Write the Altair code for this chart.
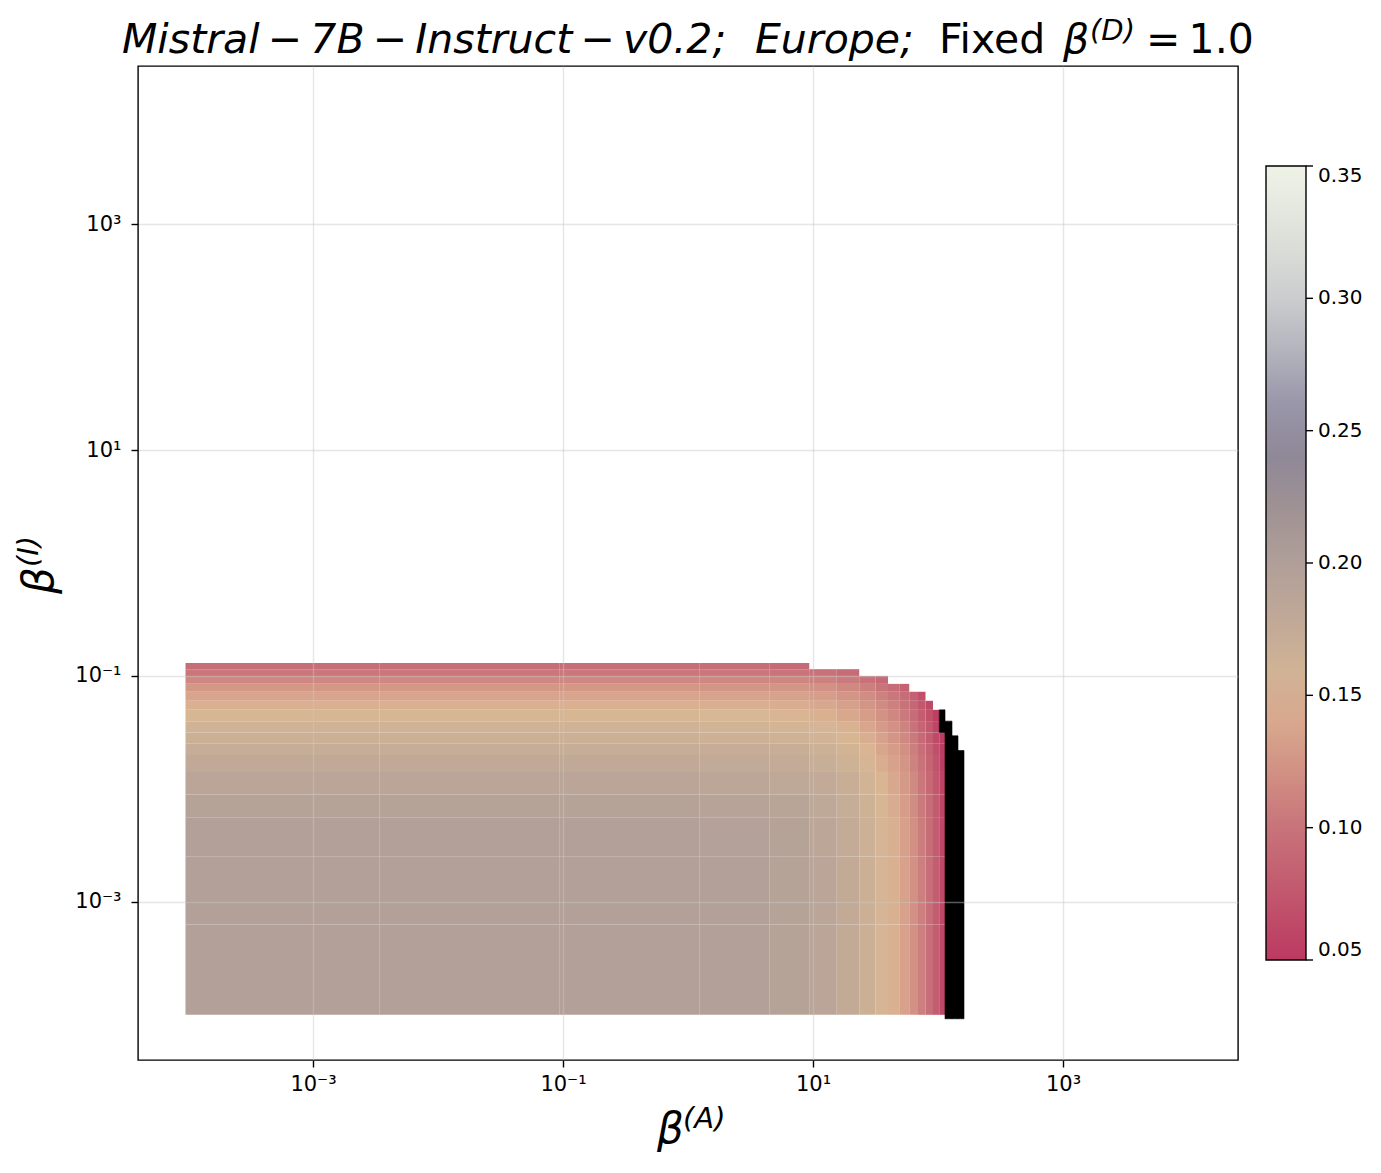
import math
import altair as alt
import pandas as pd

# ---------------- data ----------------
# cell edges, as log10(beta)
x_edge_exp = [-4.02, -2.47, -1.03, 0.09, 0.65, 0.97, 1.19, 1.37, 1.50, 1.60,
              1.69, 1.77, 1.84, 1.90, 1.96, 2.01, 2.056]
y_edge_exp = [-4.0, -3.2, -2.6, -2.25, -2.05, -1.85, -1.7, -1.6, -1.5, -1.4,
              -1.3, -1.22, -1.14, -1.07, -1.0, -0.94, -0.885]

N = None
# rows: bottom -> top, columns: left -> right
cell_values = [
    [0.197, 0.197, 0.197, 0.195, 0.191, 0.185, 0.176, 0.166, 0.155, 0.146, 0.135, 0.122, 0.108, 0.095, 0.080, 0.062],
    [0.197, 0.197, 0.197, 0.195, 0.191, 0.185, 0.176, 0.166, 0.155, 0.146, 0.135, 0.122, 0.108, 0.095, 0.080, 0.062],
    [0.195, 0.195, 0.195, 0.194, 0.190, 0.184, 0.175, 0.165, 0.154, 0.145, 0.134, 0.121, 0.107, 0.094, 0.079, 0.061],
    [0.190, 0.190, 0.190, 0.189, 0.186, 0.181, 0.172, 0.163, 0.152, 0.143, 0.132, 0.119, 0.105, 0.093, 0.078, 0.060],
    [0.185, 0.185, 0.185, 0.184, 0.181, 0.177, 0.169, 0.159, 0.149, 0.140, 0.129, 0.117, 0.103, 0.090, 0.075, 0.058],
    [0.178, 0.178, 0.178, 0.177, 0.175, 0.170, 0.163, 0.154, 0.144, 0.135, 0.125, 0.112, 0.099, 0.086, 0.072, 0.054],
    [0.172, 0.172, 0.172, 0.171, 0.169, 0.165, 0.158, 0.149, 0.139, 0.131, 0.121, 0.108, 0.095, 0.083, 0.068, 0.052],
    [0.166, 0.166, 0.166, 0.165, 0.163, 0.159, 0.152, 0.144, 0.135, 0.126, 0.116, 0.104, 0.091, 0.079, 0.064, 0.052],
    [0.160, 0.160, 0.160, 0.159, 0.157, 0.154, 0.147, 0.139, 0.130, 0.122, 0.112, 0.100, 0.087, 0.075, 0.060, N],
    [0.152, 0.152, 0.152, 0.151, 0.149, 0.146, 0.140, 0.132, 0.123, 0.115, 0.105, 0.094, 0.081, 0.069, 0.055, N],
    [0.146, 0.146, 0.146, 0.145, 0.144, 0.140, 0.134, 0.126, 0.118, 0.110, 0.100, 0.089, 0.076, 0.064, N, N],
    [0.138, 0.138, 0.138, 0.137, 0.136, 0.132, 0.126, 0.119, 0.111, 0.103, 0.094, 0.083, 0.070, N, N, N],
    [0.127, 0.127, 0.127, 0.126, 0.125, 0.122, 0.116, 0.109, 0.101, 0.094, 0.084, N, N, N, N, N],
    [0.115, 0.115, 0.115, 0.114, 0.113, 0.110, 0.104, 0.098, 0.090, N, N, N, N, N, N, N],
    [0.103, 0.103, 0.103, 0.103, 0.101, 0.098, 0.093, N, N, N, N, N, N, N, N, N],
    [0.094, 0.094, 0.094, 0.094, 0.092, N, N, N, N, N, N, N, N, N, N, N],
]

# cells below the colour range (drawn black), log10 edges
black_x0 = [2.01, 2.056, 2.112, 2.16]
black_x1 = [2.056, 2.112, 2.16, 2.208]
black_y0 = [-1.5, -4.035, -4.035, -4.035]
black_y1 = [-1.3, -1.40, -1.53, -1.66]

x_tick_values = [1e-3, 1e-1, 1e1, 1e3]
x_tick_labels = ["10\u207b\u00b3", "10\u207b\u00b9", "10\u00b9", "10\u00b3"]
y_tick_values = [1e-3, 1e-1, 1e1, 1e3]
y_tick_labels = ["10\u207b\u00b3", "10\u207b\u00b9", "10\u00b9", "10\u00b3"]

cbar_ticks = [0.05, 0.10, 0.15, 0.20, 0.25, 0.30, 0.35]
cmap_values = [0.05, 0.0625, 0.075, 0.0875, 0.10, 0.1125, 0.125, 0.1375, 0.15,
               0.1625, 0.175, 0.1875, 0.20, 0.2125, 0.225, 0.2375, 0.2475,
               0.2625, 0.275, 0.2875, 0.30, 0.325, 0.35]
cmap_colors = ["#bc3a62", "#bf4867", "#c2576e", "#c56674", "#c8737a", "#cd8580",
               "#d39585", "#d8a48c", "#d9b794", "#ceb296", "#c3ab97", "#b8a498",
               "#b09f99", "#a69795", "#9c8f93", "#918895", "#8a879c", "#9b99ac",
               "#acabb8", "#bdbec4", "#cbcdce", "#dfe2db", "#eef2e6"]

# ---------------- tables ----------------
rows = []
for i, row in enumerate(cell_values):
    for j, v in enumerate(row):
        if v is None:
            continue
        rows.append(dict(x0=10 ** x_edge_exp[j], x1=10 ** x_edge_exp[j + 1],
                         y0=10 ** y_edge_exp[i], y1=10 ** y_edge_exp[i + 1], v=v))
cells = pd.DataFrame(rows)
black = pd.DataFrame(dict(x0=[10 ** e for e in black_x0], x1=[10 ** e for e in black_x1],
                          y0=[10 ** e for e in black_y0], y1=[10 ** e for e in black_y1]))


def label_expr(vals, labs):
    parts = []
    for v, lab in zip(vals, labs):
        e = round(math.log10(v))
        parts.append(f"abs(log(datum.value)/LN10 - ({e})) < 0.01 ? '{lab}'")
    return " : ".join(parts) + " : ''"


FONT = "DejaVu Sans"
xscale = alt.Scale(type="log", domain=[10 ** -4.4, 10 ** 4.4], nice=False)
yscale = alt.Scale(type="log", domain=[10 ** -4.4, 10 ** 4.4], nice=False)
cscale = alt.Scale(domain=cmap_values, range=cmap_colors, interpolate="rgb", clamp=True)

axis_common = dict(grid=True, domain=False, tickColor="black", tickSize=7, tickWidth=1.4,
                   labelFont=FONT, labelFontSize=21, labelColor="black",
                   gridColor="#c8c8c8", gridOpacity=0.45, gridWidth=1.4, zindex=1,
                   labelFlush=False, labelOverlap=False, title=None)

xaxis = alt.Axis(values=x_tick_values, labelExpr=label_expr(x_tick_values, x_tick_labels),
                 labelPadding=6, **axis_common)
yaxis = alt.Axis(values=y_tick_values, labelExpr=label_expr(y_tick_values, y_tick_labels),
                 labelPadding=10, **axis_common)

legend = alt.Legend(type="gradient", orient="none", legendX=1128, legendY=100, title=None,
                    gradientLength=794, gradientThickness=40,
                    gradientStrokeColor="black", gradientStrokeWidth=1.4,
                    values=cbar_ticks, format=".2f", labelFont=FONT, labelFontSize=20,
                    labelColor="black", labelOffset=12, direction="vertical")

heat = alt.Chart(cells).mark_rect().encode(
    x=alt.X("x0:Q", scale=xscale, axis=xaxis),
    x2="x1:Q",
    y=alt.Y("y0:Q", scale=yscale, axis=yaxis),
    y2="y1:Q",
    color=alt.Color("v:Q", scale=cscale, legend=legend),
)

blk = alt.Chart(black).mark_rect(color="black", stroke="black", strokeWidth=0.6).encode(
    x=alt.X("x0:Q", scale=xscale, axis=xaxis),
    x2="x1:Q",
    y=alt.Y("y0:Q", scale=yscale, axis=yaxis),
    y2="y1:Q",
)

cbt = alt.Chart(pd.DataFrame({"t": cbar_ticks})).mark_rule(color="black", strokeWidth=1.4).encode(
    y=alt.Y("t:Q", scale=alt.Scale(domain=[0.05, 0.35], range=[894, 100]), axis=None),
    x=alt.value(1168),
    x2=alt.value(1175),
)

dummy = pd.DataFrame({"k": [0]})
sp_op = "\u2009"
sp_word = "\u2002\u2009"
title_t1 = ("Mistral" + sp_op + "\u2212" + sp_op + "7B" + sp_op + "\u2212" + sp_op + "Instruct"
            + sp_op + "\u2212" + sp_op + "v0.2;" + sp_word + "Europe;")

# (text, style, align, x, y, size, angle)
text_parts = [
    (title_t1, "italic", "left", -16, -13, 41, 0),
    ("Fixed", "normal", "left", 801, -13, 41, 0),
    ("\u03b2", "italic", "left", 925, -13, 41, 0),
    ("(D)", "italic", "left", 952, -26, 29, 0),
    ("=\u20091.0", "normal", "left", 1008, -13, 41, 0),
    ("\u03b2", "italic", "left", 519, 1077, 42, 0),
    ("(A)", "italic", "left", 545, 1062, 29, 0),
    ("\u03b2", "italic", "left", -85, 528, 42, 270),
    ("(I)", "italic", "left", -100, 501, 29, 270),
]
text_layers = [
    alt.Chart(dummy).mark_text(align=al, baseline="alphabetic", font=FONT, fontSize=fs,
                               fontStyle=st, color="black", angle=ang).encode(
        x=alt.value(px), y=alt.value(py), text=alt.value(txt))
    for txt, st, al, px, py, fs, ang in text_parts
]

inner = alt.layer(heat, blk)
chart = alt.layer(inner, cbt, *text_layers).resolve_scale(
    y="independent"
).properties(
    width=1100, height=994,
    padding={"left": 130, "top": 58, "right": 128, "bottom": 100},
    autosize=alt.AutoSizeParams(type="none"),
    background="white",
).configure_view(stroke="black", strokeWidth=1.4)

chart.save("out.html", embed_options={"renderer": "svg", "actions": False})
